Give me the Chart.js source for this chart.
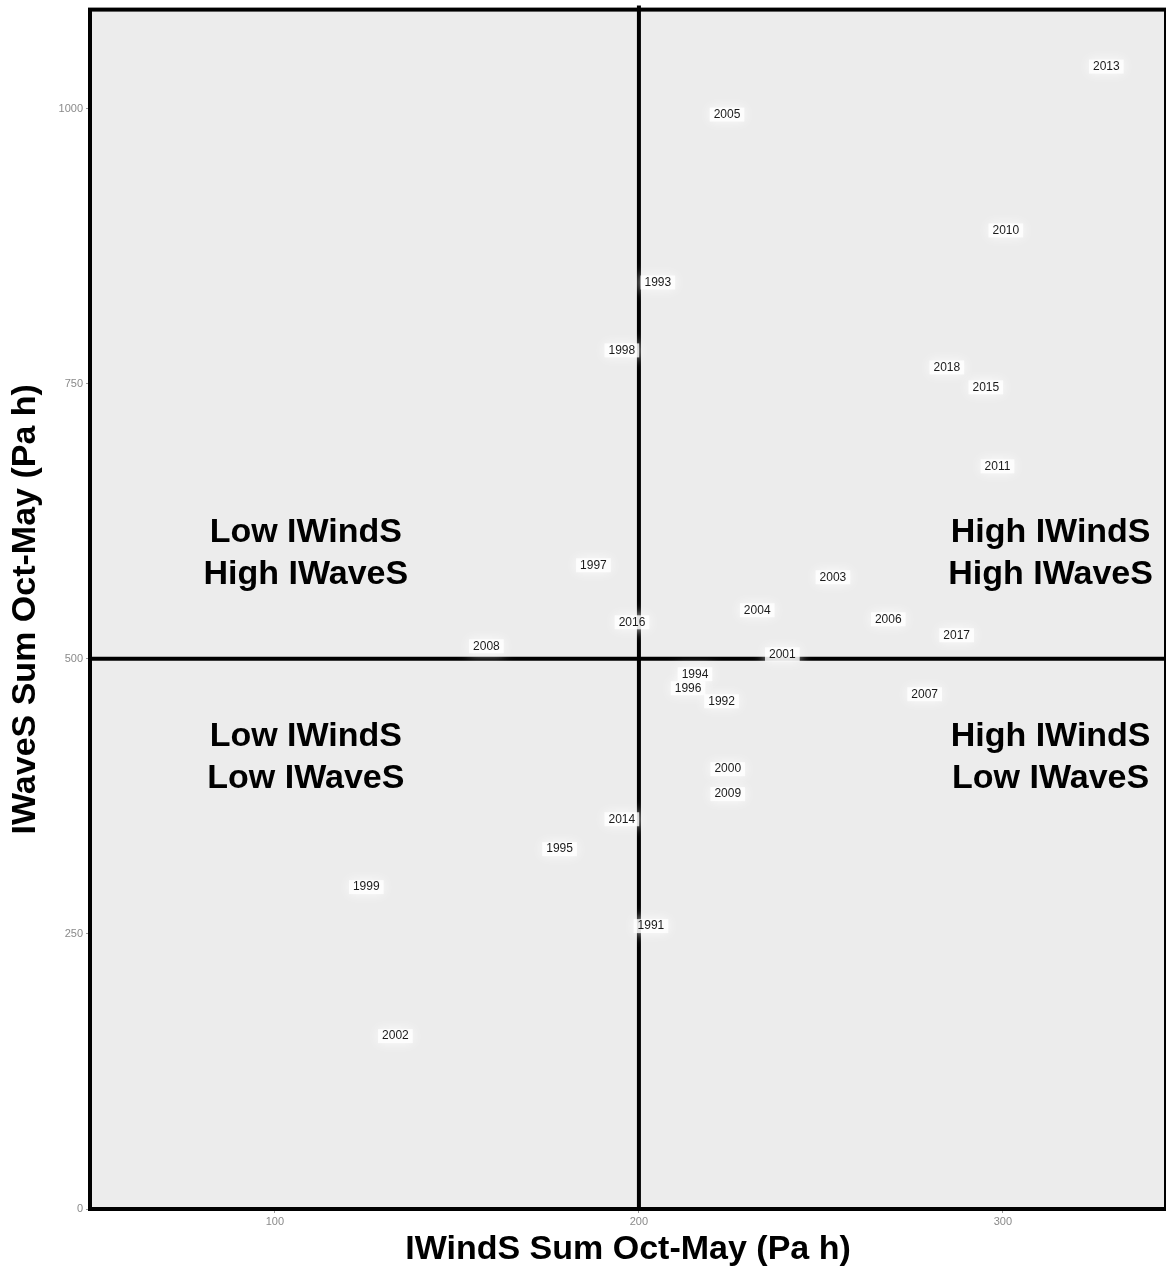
<!DOCTYPE html>
<html>
<head>
<meta charset="utf-8">
<script src="https://cdn.jsdelivr.net/npm/chart.js@4.4.0/dist/chart.umd.min.js"></script>
<style>
  html, body { margin: 0; padding: 0; background: #ffffff; }
  #wrap { width: 1166px; height: 1273px; }
</style>
</head>
<body>
<div id="wrap"><canvas id="c" width="1166" height="1273"></canvas></div>
<script>
// ---- data ----
const years = ['2013','2005','2010','1993','1998','2018','2015','2011','1997','2003','2004','2016','2006','2017','2008','2001','1994','1996','1992','2007','2000','2009','2014','1995','1999','1991','2002'];
const windSum = [328.4,224.2,300.8,205.2,195.3,284.6,295.3,298.5,187.5,253.3,232.5,198.1,268.5,287.3,158.1,239.4,215.4,213.5,222.7,278.5,224.4,224.4,195.3,178.2,125.1,203.3,133.1];
const waveSum = [1038.2,994.6,889.3,842.0,780.3,764.8,746.7,674.9,585.0,574.1,544.1,533.2,535.9,521.4,511.4,504.1,486.0,473.2,461.4,467.8,399.7,377.0,354.2,327.0,292.5,257.1,157.1];

const xTicks = [100, 200, 300];
const yTicks = [0, 250, 500, 750, 1000];
const windThreshold = 200;
const waveThreshold = 500;

const quadText = [['Low IWindS','High IWaveS'],['High IWindS','High IWaveS'],['Low IWindS','Low IWaveS'],['High IWindS','Low IWaveS']];
const quadX = [108.5, 313.1, 108.5, 313.1];
const quadY = [595.9, 595.9, 410.1, 410.1];

const xTitle = 'IWindS Sum Oct-May (Pa h)';
const yTitle = 'IWaveS Sum Oct-May (Pa h)';

const points = windSum.map((x, i) => ({x: x, y: waveSum[i]}));

const FONT = '"Liberation Sans", Arial, Helvetica, sans-serif';

const drawPlugin = {
  id: 'quadrants',
  beforeDatasetsDraw(chart) {
    const {ctx, chartArea: a} = chart;
    ctx.save();
    ctx.fillStyle = '#ececec';
    ctx.fillRect(a.left, a.top, a.right - a.left, a.bottom - a.top);
    ctx.restore();
  },
  afterDatasetsDraw(chart) {
    const {ctx, chartArea: a, scales} = chart;
    const xs = scales.x, ys = scales.y;
    ctx.save();
    // threshold lines
    ctx.strokeStyle = '#000';
    ctx.lineWidth = 4;
    const vx = xs.getPixelForValue(windThreshold);
    const hy = ys.getPixelForValue(waveThreshold);
    ctx.beginPath();
    ctx.moveTo(vx, a.top - 4); ctx.lineTo(vx, a.bottom);
    ctx.moveTo(a.left, hy); ctx.lineTo(a.right, hy);
    ctx.stroke();

    // quadrant labels
    ctx.fillStyle = '#000';
    ctx.font = 'bold 34px ' + FONT;
    ctx.textAlign = 'center';
    ctx.textBaseline = 'middle';
    quadText.forEach((lines, i) => {
      const px = xs.getPixelForValue(quadX[i]);
      const py = ys.getPixelForValue(quadY[i]);
      ctx.fillText(lines[0], px, py - 21);
      ctx.fillText(lines[1], px, py + 21);
    });

    // year labels with soft white halo
    const meta = chart.getDatasetMeta(0);
    ctx.font = '12px ' + FONT;
    meta.data.forEach((el, i) => {
      const w = ctx.measureText(years[i]).width;
      ctx.save();
      ctx.shadowColor = 'rgba(255,255,255,1)';
      ctx.shadowBlur = 12;
      ctx.fillStyle = 'rgba(255,255,255,0.8)';
      ctx.fillRect(el.x - w / 2 - 4, el.y - 7, w + 8, 14);
      ctx.restore();
    });
    ctx.fillStyle = '#1a1a1a';
    meta.data.forEach((el, i) => {
      ctx.fillText(years[i], el.x, el.y);
    });
    ctx.restore();
  },
  afterDraw(chart) {
    const {ctx, chartArea: a} = chart;
    ctx.save();
    ctx.strokeStyle = '#000';
    ctx.lineWidth = 4;
    ctx.strokeRect(a.left, a.top, a.right - a.left, a.bottom - a.top);
    ctx.restore();
  }
};

new Chart(document.getElementById('c'), {
  type: 'scatter',
  data: {
    datasets: [{
      label: 'Years',
      data: points,
      pointRadius: 0,
      pointHoverRadius: 0,
      showLine: false
    }]
  },
  options: {
    responsive: false,
    animation: false,
    devicePixelRatio: 1,
    layout: { padding: { top: 9, right: 0, left: 0, bottom: 0 } },
    plugins: { legend: { display: false }, tooltip: { enabled: false } },
    scales: {
      x: {
        type: 'linear',
        min: 49.2,
        max: 344.8,
        afterBuildTicks(scale) { scale.ticks = xTicks.map(v => ({value: v})); },
        afterFit(scale) { scale.height = 64; },
        border: { display: false },
        grid: { drawOnChartArea: false, drawTicks: true, tickLength: 4, color: '#9a9a9a' },
        ticks: { color: '#8a8a8a', font: { family: FONT, size: 11 }, padding: 2, maxRotation: 0, callback: v => String(v) },
        title: { display: true, text: xTitle, color: '#000', font: { family: FONT, size: 34, weight: 'bold' }, padding: { top: 0, bottom: 3 } }
      },
      y: {
        type: 'linear',
        min: 0,
        max: 1090,
        afterBuildTicks(scale) { scale.ticks = yTicks.map(v => ({value: v})); },
        afterFit(scale) { scale.width = 90; },
        border: { display: false },
        grid: { drawOnChartArea: false, drawTicks: true, tickLength: 4, color: '#9a9a9a' },
        ticks: { color: '#8a8a8a', font: { family: FONT, size: 11 }, padding: 3, callback: v => String(v) },
        title: { display: true, text: yTitle, color: '#000', font: { family: FONT, size: 34, weight: 'bold' }, padding: { top: 5, bottom: 0 } }
      }
    }
  },
  plugins: [drawPlugin]
});
</script>
</body>
</html>
